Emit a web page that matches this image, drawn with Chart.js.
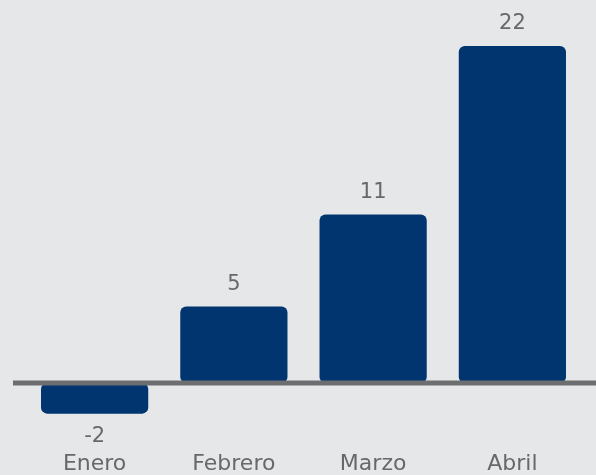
<!DOCTYPE html>
<html>
<head>
<meta charset="utf-8">
<script src="https://cdn.jsdelivr.net/npm/chart.js@4"></script>
<style>
  html, body { margin: 0; padding: 0; background: #e6e7e9; }
  #chartBox { width: 596px; height: 475px; }
</style>
</head>
<body>
<div id="chartBox"><canvas id="barChart" width="596" height="475"></canvas></div>
<script>
const months = ["Enero", "Febrero", "Marzo", "Abril"];
const values = [-2, 5, 11, 22];

const textGray = "#67686a";
const lineGray = "#6d6e70";
const navy = "#00356f";

// labels over/under the bars + the thick zero line
const extras = {
    id: "extras",
    afterDatasetsDraw(chart) {
        const ctx = chart.ctx;
        const area = chart.chartArea;
        const y0 = chart.scales.y.getPixelForValue(0);

        ctx.save();
        ctx.strokeStyle = lineGray;
        ctx.lineWidth = 5;
        ctx.beginPath();
        ctx.moveTo(area.left - 12, y0);
        ctx.lineTo(chart.width, y0);
        ctx.stroke();

        ctx.fillStyle = textGray;
        ctx.font = "21px 'DejaVu Sans'";
        ctx.textAlign = "center";
        ctx.textBaseline = "middle";
        chart.getDatasetMeta(0).data.forEach((bar, i) => {
            const v = values[i];
            const y = v >= 0 ? bar.y - 22 : bar.y + 23;
            ctx.fillText(String(v), bar.x, y);
        });
        ctx.restore();
    }
};

new Chart("barChart", {
    type: "bar",
    data: {
        labels: months,
        datasets: [{
            data: values,
            backgroundColor: navy,
            borderRadius: 6,
            borderSkipped: false,
            categoryPercentage: 1,
            barPercentage: 0.77
        }]
    },
    options: {
        responsive: false,
        animation: false,
        layout: { padding: { left: 25, right: 14, top: 23, bottom: 0 } },
        plugins: {
            legend: { display: false },
            tooltip: { enabled: false }
        },
        scales: {
            x: {
                grid: { display: false, drawTicks: false },
                border: { display: false },
                ticks: {
                    color: textGray,
                    font: { family: "'DejaVu Sans'", size: 22, lineHeight: 1 },
                    padding: 0
                }
            },
            y: {
                display: false,
                min: -4.57,
                max: 23.5
            }
        }
    },
    plugins: [extras]
});
</script>
</body>
</html>
